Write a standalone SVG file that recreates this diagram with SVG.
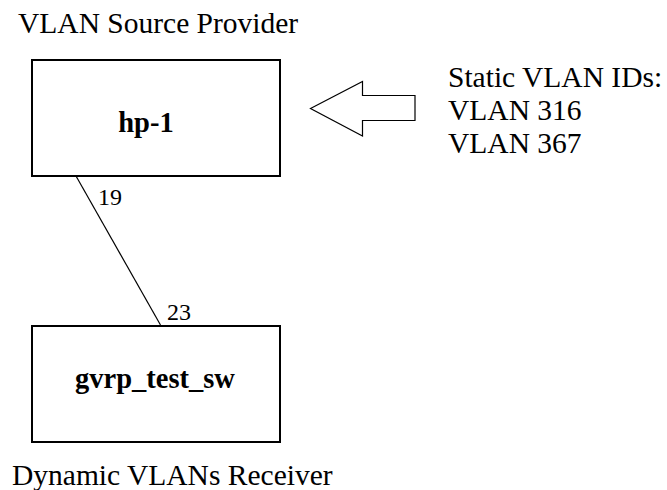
<svg xmlns="http://www.w3.org/2000/svg" width="667" height="490" viewBox="0 0 667 490">
  <style>
    .txt { font-family: "Liberation Serif", "Times New Roman", serif; font-size: 29.5px; fill: #000; }
    .node-label { font-family: "Liberation Serif", "Times New Roman", serif; font-size: 28.5px; font-weight: bold; fill: #000; text-anchor: middle; }
    .port { font-family: "Liberation Serif", "Times New Roman", serif; font-size: 24px; fill: #000; }
    .box { fill: #fff; stroke: #000; stroke-width: 2; }
    .link { stroke: #000; stroke-width: 1.2; fill: none; }
  </style>
  <rect width="667" height="490" fill="#fff"/>

  <text class="txt" x="18" y="33">VLAN Source Provider</text>

  <g id="connectors">
    <line class="link" x1="76" y1="176" x2="160.5" y2="325"/>
    <text class="port" x="98" y="205">19</text>
    <text class="port" x="167" y="320">23</text>
  </g>

  <g id="hp-1">
    <rect class="box" x="32" y="60" width="248" height="116"/>
    <text class="node-label" x="146" y="131.5">hp-1</text>
  </g>

  <g id="gvrp_test_sw">
    <rect class="box" x="32" y="326" width="248" height="116"/>
    <text class="node-label" x="155" y="388">gvrp_test_sw</text>
  </g>

  <g id="static-vlans">
    <polygon points="310.5,108.5 362.5,81.5 362.5,95.5 415,95.5 415,120.5 362.5,120.5 362.5,136" fill="#fff" stroke="#000" stroke-width="1.2"/>
    <text class="txt" x="448" y="87">Static VLAN IDs:</text>
    <text class="txt" x="448" y="120">VLAN 316</text>
    <text class="txt" x="448" y="153">VLAN 367</text>
  </g>

  <text class="txt" x="12" y="485">Dynamic VLANs Receiver</text>
</svg>
